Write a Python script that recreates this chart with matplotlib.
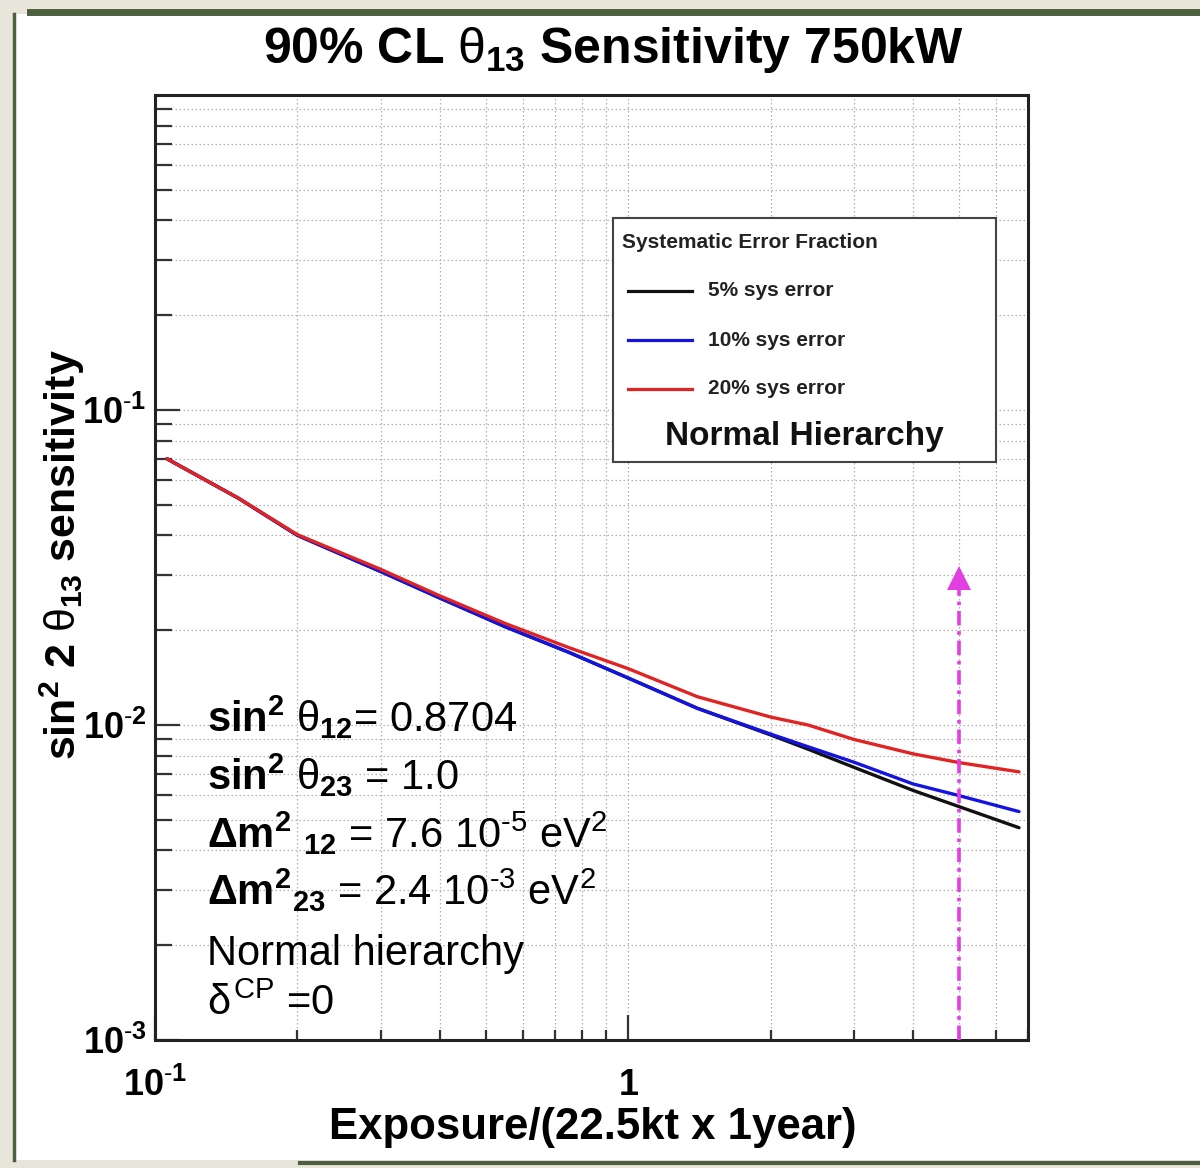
import math
import matplotlib
matplotlib.use("Agg")
import matplotlib.pyplot as plt
from matplotlib.patches import Rectangle
from matplotlib.lines import Line2D
from matplotlib.ticker import FixedLocator, FuncFormatter, LogLocator, NullFormatter

plt.rcParams['font.family'] = ['Liberation Sans', 'DejaVu Sans']
plt.rcParams['mathtext.fontset'] = 'custom'
plt.rcParams['mathtext.rm'] = 'Liberation Sans'
plt.rcParams['mathtext.it'] = 'Liberation Sans'
plt.rcParams['mathtext.bf'] = 'Liberation Sans:bold'
plt.rcParams['axes.unicode_minus'] = False

# ---- data ----
exposure = [0.106, 0.15, 0.2, 0.3, 0.4, 0.55, 0.75, 1.0, 1.4, 2.0, 2.4, 3.0, 4.0, 5.0, 6.7]
sys5 = [0.070, 0.0525, 0.040, 0.0307, 0.0253, 0.0205, 0.0170, 0.0141, 0.0113, 0.0093,
        0.00838, 0.00734, 0.0062, 0.00551, 0.00472]
sys10 = [0.070, 0.0525, 0.040, 0.0307, 0.0253, 0.0205, 0.0170, 0.0141, 0.0113, 0.00936,
         0.00853, 0.00762, 0.0065, 0.00597, 0.00531]
sys20 = [0.070, 0.0525, 0.0402, 0.0312, 0.0257, 0.0210, 0.0176, 0.0151, 0.0123, 0.0106,
         0.0100, 0.0090, 0.0081, 0.0076, 0.0071]
series_labels = ['5% sys error', '10% sys error', '20% sys error']
series_colors = ['#111111', '#1414e0', '#e02424']

arrow_x = 5.0
arrow_top = 0.0292

xlim = (0.1, 7.0)
ylim = (1e-3, 1.0)

W, H = 1200, 1168
fig = plt.figure(figsize=(W / 100, H / 100), dpi=100, facecolor='#e8e6da')

# white slide panel and green brush borders
fig.patches.append(Rectangle((15 / W, 8 / H), 1 - 15 / W, 1 - 22 / H, transform=fig.transFigure,
                             facecolor='white', edgecolor='none', zorder=-10))
green = '#4d5f3e'
fig.lines.append(Line2D([14 / W, 14 / W], [8 / H, 1 - 14 / H], transform=fig.transFigure,
                        color=green, lw=2.5, zorder=-5))
fig.lines.append(Line2D([30 / W, 1.0], [1 - 12 / H, 1 - 12 / H], transform=fig.transFigure,
                        color=green, lw=5, zorder=-5))
fig.lines.append(Line2D([300 / W, 1.0], [1 - 1163 / H, 1 - 1163 / H], transform=fig.transFigure,
                        color=green, lw=3, zorder=-5))

ax = fig.add_axes([155 / W, 1 - 1040 / H, (1028 - 155) / W, (1040 - 95) / H])
ax.set_zorder(1)
ax.set_facecolor('white')
ax.set_xscale('log')
ax.set_yscale('log')
ax.set_xlim(*xlim)
ax.set_ylim(*ylim)

for ys, c in zip([sys5, sys10, sys20], series_colors):
    ax.plot(exposure, ys, color=c, lw=2.4, solid_capstyle='round', solid_joinstyle='round',
            zorder=3)

# magenta arrow
mag = '#e23ee2'
ax.plot([arrow_x, arrow_x], [ylim[0], arrow_top * 0.93], color=mag, lw=2.6,
        linestyle=(0, (4, 1.6, 1, 1.6)), zorder=4)
ax.plot([arrow_x], [arrow_top], marker='^', color=mag, markersize=17, zorder=4,
        markeredgewidth=0)

# grid, ticks
ax.grid(True, which='both', color='#b0b0b0', linestyle=(0, (1.2, 2.0)), lw=0.9)
ax.set_axisbelow(True)
ax.xaxis.set_major_locator(FixedLocator([0.1, 1.0]))
ax.xaxis.set_minor_locator(LogLocator(base=10, subs=range(2, 10), numticks=20))
ax.yaxis.set_major_locator(FixedLocator([1e-3, 1e-2, 1e-1]))
ax.yaxis.set_minor_locator(LogLocator(base=10, subs=range(2, 10), numticks=20))
ax.xaxis.set_minor_formatter(NullFormatter())
ax.yaxis.set_minor_formatter(NullFormatter())


def xfmt(v, pos):
    if abs(v - 1.0) < 1e-9:
        return r'$\mathbf{1}$'
    return r'$\mathbf{10^{\text{-}1}}$'


def yfmt(v, pos):
    e = int(round(math.log10(v)))
    return r'$\mathbf{10^{\text{-}%d}}$' % abs(e)


ax.xaxis.set_major_formatter(FuncFormatter(xfmt))
ax.yaxis.set_major_formatter(FuncFormatter(yfmt))
ax.tick_params(axis='both', which='both', direction='in', color='#333333', width=1.6)
ax.tick_params(axis='y', which='major', length=18, labelsize=26, pad=6)
ax.tick_params(axis='y', which='minor', length=12)
ax.tick_params(axis='x', which='major', length=18, labelsize=26, pad=20)
ax.tick_params(axis='x', which='minor', length=7)
for s in ax.spines.values():
    s.set_linewidth(2.2)
    s.set_color('#222222')

# titles / labels
fig.text(613 / W, 1 - 50 / H, r'90% CL $\theta_{\mathbf{13}}$ Sensitivity 750kW',
         ha='center', va='center', fontsize=36, fontweight='bold')
fig.text(593 / W, 1 - 1128 / H, 'Exposure/(22.5kt x 1year)', ha='center', va='center',
         fontsize=31.5, fontweight='bold')
fig.text(62 / W, 1 - 555 / H, r'sin$^{\mathbf{2}}$ 2 $\theta_{\mathbf{13}}$ sensitivity',
         ha='center', va='center', rotation=90, fontsize=31, fontweight='bold')

# parameter text block
params = [
    (r'$\mathbf{sin^{2}}\ \theta_{\mathbf{12}}$= 0.8704', 732),
    (r'$\mathbf{sin^{2}}\ \theta_{\mathbf{23}}$ = 1.0', 790),
    (r'$\mathbf{\Delta m^{2}\ _{12}}$ = 7.6 10$^{\text{-}5}$ eV$^{2}$', 848),
    (r'$\mathbf{\Delta m^{2}{}_{23}}$ = 2.4 10$^{\text{-}3}$ eV$^{2}$', 905),
    ('Normal hierarchy', 965),
    (r'$\delta^{\mathrm{CP}}$ =0', 1015),
]
for txt, py in params:
    fig.text(207 / W, 1 - py / H, txt, ha='left', va='baseline', fontsize=30)


# legend box (drawn manually)
def axx(px):
    return (px - 155) / 873


def axy(py):
    return (1040 - py) / 945


ax.add_patch(Rectangle((axx(613), axy(462)), axx(996) - axx(613), axy(218) - axy(462),
                       transform=ax.transAxes, facecolor='white', edgecolor='#444444',
                       lw=1.5, zorder=5))
ax.text(axx(622), axy(243), 'Systematic Error Fraction', transform=ax.transAxes,
        ha='left', va='center', fontsize=15, fontweight='bold', color='#222222', zorder=6)
for lab, c, py in zip(series_labels, series_colors, [291, 340, 389]):
    ax.plot([axx(628), axx(692)], [axy(py), axy(py)], transform=ax.transAxes, color=c,
            lw=2.3, zorder=6)
    ax.text(axx(708), axy(py), lab, transform=ax.transAxes, ha='left', va='center',
            fontsize=15, fontweight='bold', color='#222222', zorder=6)
ax.text(axx(804), axy(437), 'Normal Hierarchy', transform=ax.transAxes, ha='center',
        va='center', fontsize=24, fontweight='bold', color='#111111', zorder=6)

fig.savefig('out.png', dpi=100, facecolor=fig.get_facecolor())
